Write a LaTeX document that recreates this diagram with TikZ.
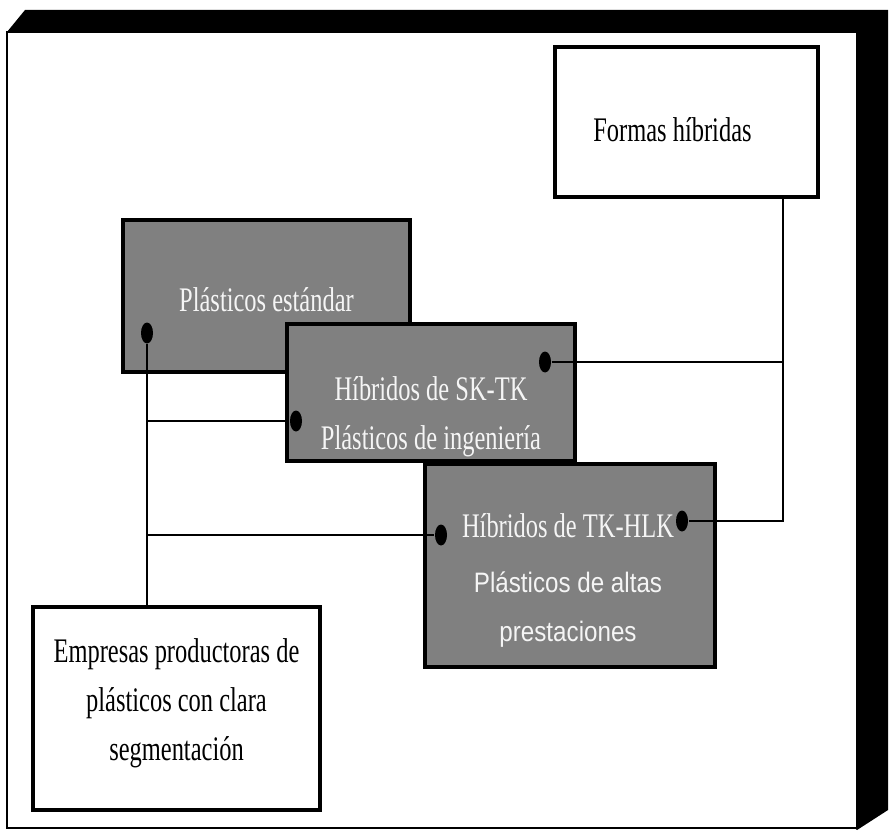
\documentclass[tikz,border=0pt]{standalone}
\usepackage{fontspec}
\setmainfont{Liberation Serif}
\newfontfamily\narrowserif{Liberation Serif}[FakeStretch=0.71]
\newfontfamily\narrowsans{Liberation Sans}[FakeStretch=0.86]
\usetikzlibrary{shapes.geometric}

\begin{document}
\begin{tikzpicture}[
    whitebox/.style={draw, line width=0.9pt, fill=white, inner sep=0pt},
    graybox/.style={draw, line width=0.9pt, fill=black!50, inner sep=0pt},
    serif/.style={font=\narrowserif\fontsize{9.8}{14}\selectfont, align=center, inner sep=0pt},
    lighttext/.style={text=black!4},
    dot/.style={ellipse, fill=black, minimum width=0.12cm, minimum height=0.21cm, inner sep=0pt},
    wire/.style={line width=0.7pt}
]
    \useasboundingbox (0,0) rectangle (8.9,8.31);

    \fill[black] (0.07,7.99) -- (0.25,8.21) -- (8.88,8.21) -- (8.88,0.21) -- (8.57,0.01) -- cycle;
    \draw[fill=white, line width=0.6pt] (0.07,0.03) rectangle (8.57,7.99);

    \node[whitebox, minimum width=2.63cm, minimum height=1.50cm] (formas) at (6.865,7.09) {};
    \node[graybox, minimum width=2.87cm, minimum height=1.52cm] (estandar) at (2.665,5.35) {};
    \node[graybox, minimum width=2.88cm, minimum height=1.37cm] (sktk) at (4.31,4.385) {};
    \node[graybox, minimum width=2.90cm, minimum height=2.03cm] (tkhlk) at (5.70,2.655) {};
    \node[whitebox, minimum width=2.87cm, minimum height=2.03cm] (empresas) at (1.765,1.225) {};

    \node[dot] (dE) at (1.47,4.98) {};
    \node[dot] (dSl) at (2.96,4.10) {};
    \node[dot] (dSr) at (5.45,4.69) {};
    \node[dot] (dHl) at (4.41,2.96) {};
    \node[dot] (dHr) at (6.82,3.10) {};
    \coordinate (fr) at (7.83,6.34);

    \draw[wire] (dE) -- (dE |- empresas.north);
    \draw[wire] (dE |- dSl) -- (dSl);
    \draw[wire] (dE |- dHl) -- (dHl);
    \draw[wire] (fr) |- (dHr);
    \draw[wire] (dSr) -- (dSr -| fr);

    \node[serif] (formastxt) at ([xshift=-0.14cm, yshift=-0.08cm]formas.center) {Formas híbridas};
    \node[serif, lighttext] (estandartxt) at ([yshift=-0.04cm]estandar.center) {Plásticos estándar};
    \node[serif, lighttext] (sktktxt) at ([yshift=-0.24cm]sktk.center) {Híbridos de SK-TK\\Plásticos de ingeniería};
    \node[serif, lighttext] (tkhlktxt) at ([xshift=-0.02cm, yshift=-0.15cm]tkhlk.center)
        {Híbridos de TK-HLK\\[1.5pt]{\narrowsans\fontsize{8}{14}\selectfont Plásticos de altas}\\{\narrowsans\fontsize{8}{14}\selectfont prestaciones}};
    \node[serif] (empresastxt) at ([yshift=0.05cm]empresas.center) {Empresas productoras de\\plásticos con clara\\segmentación};
\end{tikzpicture}
\end{document}
